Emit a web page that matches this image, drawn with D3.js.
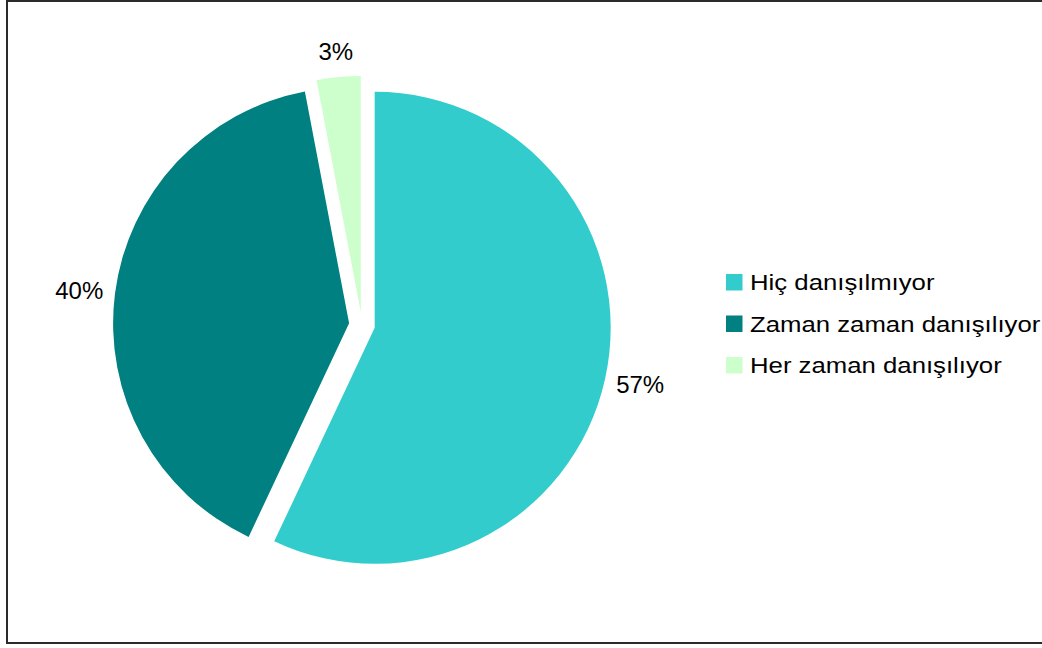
<!DOCTYPE html>
<html>
<head>
<meta charset="utf-8">
<script src="https://cdn.jsdelivr.net/npm/d3@7"></script>
<style>
  html, body { margin: 0; padding: 0; background: #fff; }
  svg { display: block; font-family: "Liberation Sans", Arial, sans-serif; }
</style>
</head>
<body>
<svg id="chart" width="1042" height="648"></svg>
<script>
// Survey answers and their shares (percent)
const categories = ["Hiç danışılmıyor", "Zaman zaman danışılıyor", "Her zaman danışılıyor"];
const shares = [57, 40, 3];
const colors = ["#33CCCC", "#008080", "#CCFFCC"];

const svg = d3.select("#chart");

// chart frame
svg.append("rect")
  .attr("x", 7).attr("y", 1)
  .attr("width", 1100).attr("height", 642)
  .attr("fill", "#fff")
  .attr("stroke", "#2b2b2b")
  .attr("stroke-width", 2);

const cx = 362, cy = 325;
const radius = 236;
const explode = 13;

const pie = d3.pie().sort(null).value(d => d.v).startAngle(0).endAngle(2 * Math.PI);
const data = pie(categories.map((c, i) => ({ c, v: shares[i], col: colors[i] })));
const arc = d3.arc().innerRadius(0).outerRadius(radius);

const g = svg.append("g").attr("transform", `translate(${cx},${cy})`);

const mid = d => (d.startAngle + d.endAngle) / 2;

g.selectAll("path.slice")
  .data(data)
  .join("path")
  .attr("class", "slice")
  .attr("d", arc)
  .attr("fill", d => d.data.col)
  .attr("transform", d => {
    const a = mid(d);
    return `translate(${explode * Math.sin(a)},${-explode * Math.cos(a)})`;
  });

// percentage labels placed just outside each slice
const labelR = radius + explode + 12;
g.selectAll("text.pct")
  .data(data)
  .join("text")
  .attr("class", "pct")
  .attr("font-size", 24)
  .attr("fill", "#000")
  .attr("text-anchor", "middle")
  .attr("dominant-baseline", "central")
  .text(d => d.data.v + "%")
  .each(function (d) {
    const a = mid(d);
    const dx = Math.sin(a), dy = -Math.cos(a);
    const bb = this.getBBox();
    const x = labelR * dx + dx * bb.width / 2;
    const y = labelR * dy + dy * bb.height / 2;
    d3.select(this).attr("x", x).attr("y", y);
  });

// legend
const legend = svg.append("g").attr("transform", "translate(726,274)");
const rowH = 41.5;
const items = legend.selectAll("g.item")
  .data(categories)
  .join("g")
  .attr("class", "item")
  .attr("transform", (d, i) => `translate(0,${i * rowH})`);
items.append("rect")
  .attr("width", 16.5).attr("height", 16.5)
  .attr("fill", (d, i) => colors[i]);
items.append("text")
  .attr("transform", "translate(24,16) scale(1.17,1)")
  .attr("font-size", 22)
  .attr("fill", "#000")
  .text(d => d);
</script>
</body>
</html>
